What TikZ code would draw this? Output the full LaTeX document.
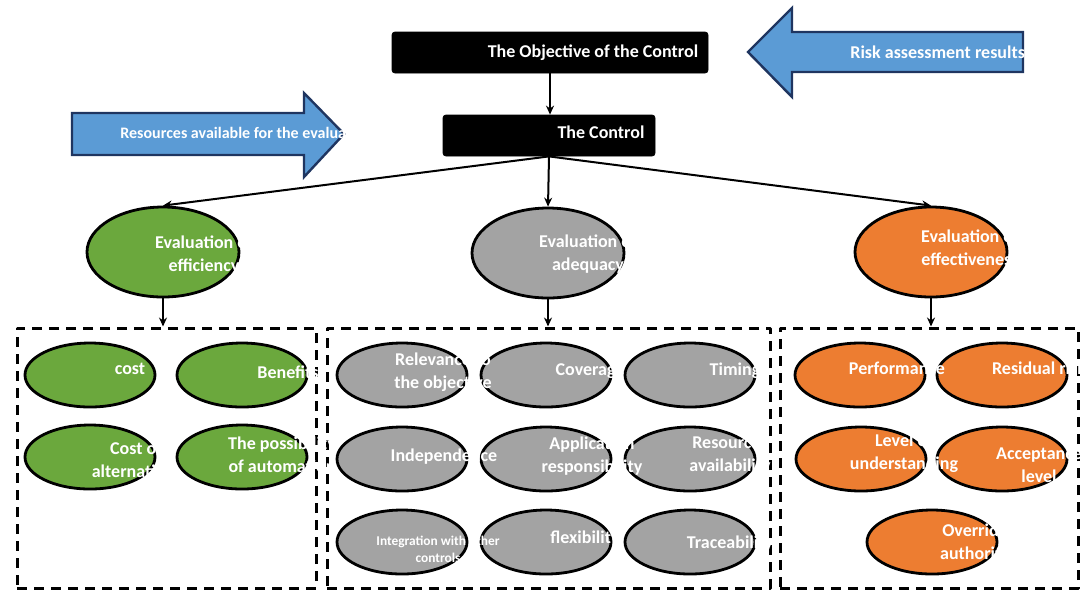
\documentclass[tikz,border=0pt]{standalone}
\usepackage{fontspec}
\setmainfont{Carlito}
\usetikzlibrary{shapes.geometric,arrows.meta}
\definecolor{resblue}{HTML}{5B9BD5}
\definecolor{navyline}{HTML}{1F3560}
\definecolor{effgreen}{HTML}{6BA83D}
\definecolor{adqgray}{HTML}{A3A3A3}
\definecolor{efforange}{HTML}{ED7D31}
\begin{document}
\begin{tikzpicture}[x=0.5pt, y=-0.5pt, line join=round,
    font=\bfseries\fontsize{9}{11.5}\selectfont,
    lbl/.style={text=white, align=center, inner sep=0pt},
    blk/.style={fill=black, draw=black, rounded corners=1.5pt, inner sep=0pt, minimum height=20.5pt},
    ell/.style={ellipse, draw=black, line width=1.4pt, inner sep=0pt, minimum width=65pt, minimum height=32pt},
    evalell/.style={minimum width=76pt, minimum height=45pt},
    grp/.style={draw=black, dash pattern=on 5pt off 3.5pt, line width=1.5pt, inner sep=0pt, minimum height=130pt},
    link/.style={-{Stealth[length=4.5pt,width=4pt]}, line width=1pt},
    bigarrow/.style={fill=resblue, draw=navyline, line width=1.2pt, line join=miter}]
\useasboundingbox (0,0) rectangle (1080,591);

\draw[bigarrow] (72,113) -- (304,113) -- (304,93) -- (344,134) -- (304,177) -- (304,155) -- (72,155) -- cycle;
\draw[bigarrow] (1023,32) -- (792,32) -- (792,8) -- (748,52) -- (792,97) -- (792,72) -- (1023,72) -- cycle;

\node[blk, minimum width=158pt] (obj) at (550,52.5) {};
\node[blk, minimum width=106pt] (ctrl) at (549,135.5) {};

\node[grp, minimum width=149.5pt] (gbox) at (166.5,458) {};
\node[grp, minimum width=221.5pt] (abox) at (548.5,458) {};
\node[grp, minimum width=149pt] (obox) at (929,458) {};

\node[ell, evalell, fill=effgreen] (effic) at (163,252) {};
\node[ell, evalell, fill=adqgray] (adeq) at (548,253) {};
\node[ell, evalell, fill=efforange] (effect) at (931,252) {};

\draw[link] (obj.south) -- (obj.south |- ctrl.north);
\draw[link] (ctrl.south) -- (effic.north);
\draw[link] (ctrl.south) -- (adeq.north);
\draw[link] (ctrl.south) -- (effect.north);
\draw[link] (effic.south) -- (effic.south |- gbox.north);
\draw[link] (adeq.south) -- (adeq.south |- abox.north);
\draw[link] (effect.south) -- (effect.south |- obox.north);

\node[ell, fill=effgreen] (cost) at (90,375) {};
\node[ell, fill=effgreen] (benefit) at (242,375) {};
\node[ell, fill=effgreen] (altcost) at (90,457) {};
\node[ell, fill=effgreen] (autom) at (242,457) {};

\node[ell, fill=adqgray] (relev) at (402,375) {};
\node[ell, fill=adqgray] (cover) at (546,375) {};
\node[ell, fill=adqgray] (timing) at (690,375) {};
\node[ell, fill=adqgray] (indep) at (402,459) {};
\node[ell, fill=adqgray] (respons) at (546,459) {};
\node[ell, fill=adqgray] (resavail) at (690,459) {};
\node[ell, fill=adqgray] (integr) at (402,542) {};
\node[ell, fill=adqgray] (flex) at (546,542) {};
\node[ell, fill=adqgray] (trace) at (690,542) {};

\node[ell, fill=efforange] (perf) at (860,375) {};
\node[ell, fill=efforange] (resrisk) at (1002,375) {};
\node[ell, fill=efforange] (underst) at (861,459) {};
\node[ell, fill=efforange] (accept) at (1002,459) {};
\node[ell, fill=efforange] (overr) at (932,542) {};

\node[lbl] (objtxt) at (593,53) {The Objective of the Control};
\node[lbl] (ctrltxt) at (601,132) {The Control};
\node[lbl, anchor=west, font=\bfseries\fontsize{8}{10}\selectfont] (restxt) at (120,133) {Resources available for the evaluation};
\node[lbl, anchor=west] (risktxt) at (850,52) {Risk assessment results};

\node[lbl] (effictxt) at (204,255) {Evaluation of\\efficiency};
\node[lbl] (adeqtxt) at (588,254) {Evaluation of\\adequacy};
\node[lbl] (effecttxt) at (970,248) {Evaluation of\\effectiveness};

\node[lbl] (costtxt) at (130,369) {cost};
\node[lbl] (benefittxt) at (288,372) {Benefits};
\node[lbl] (altcosttxt) at (136,460) {Cost of\\alternatives};
\node[lbl] (automtxt) at (282,455) {The possibility\\of automation};

\node[lbl] (relevtxt) at (443,372) {Relevance to\\the objective};
\node[lbl] (covertxt) at (590,371) {Coverage};
\node[lbl] (timingtxt) at (735,371) {Timing};
\node[lbl] (indeptxt) at (444,457) {Independence};
\node[lbl] (responstxt) at (592,456) {Application\\responsibility};
\node[lbl] (resavailtxt) at (730,456) {Resources\\availability};
\node[lbl, font=\bfseries\fontsize{6.7}{8.5}\selectfont] (integrtxt) at (438,549) {Integration with other\\controls};
\node[lbl] (flextxt) at (585,539) {flexibility};
\node[lbl] (tracetxt) at (730,544) {Traceability};

\node[lbl] (perftxt) at (897,368) {Performance};
\node[lbl] (resrisktxt) at (1039,368) {Residual risk};
\node[lbl] (understtxt) at (904,453) {Level of\\understanding};
\node[lbl] (accepttxt) at (1039,465) {Acceptance\\level};
\node[lbl] (overrtxt) at (975,543) {Override\\authority};
\end{tikzpicture}
\end{document}
